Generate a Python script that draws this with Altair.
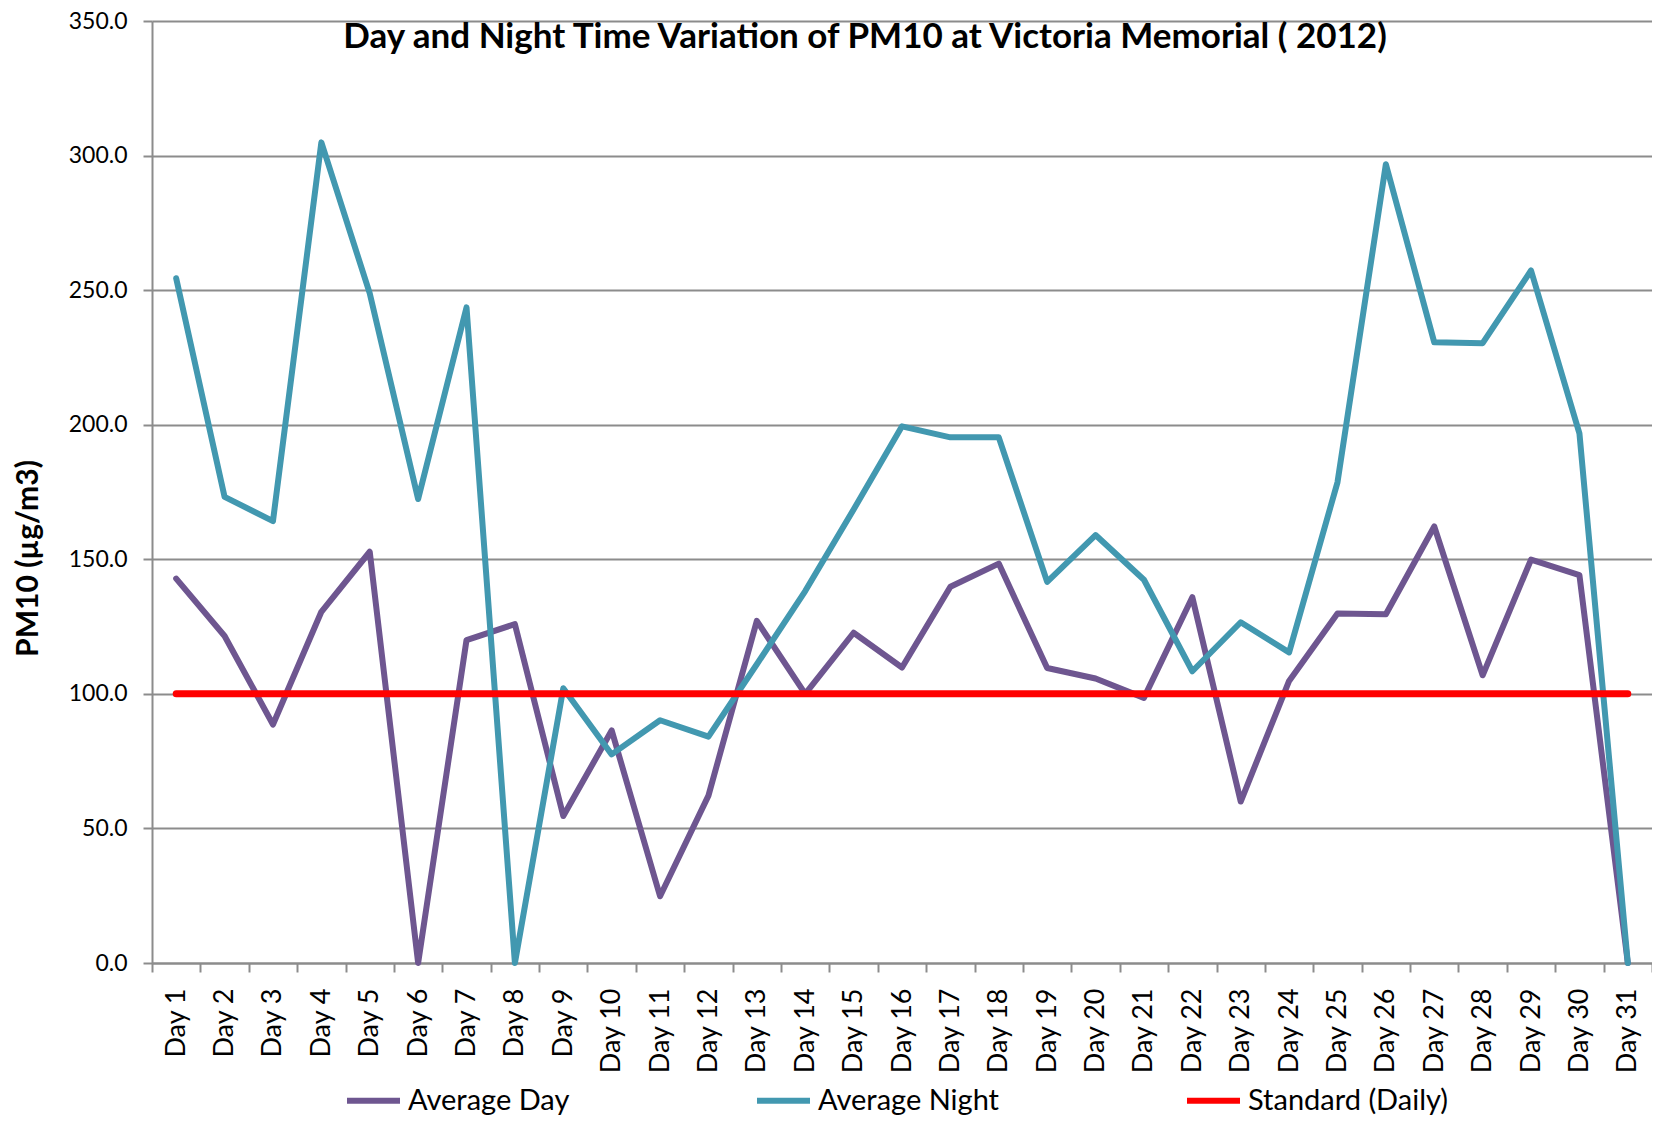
import altair as alt
import pandas as pd

days = [f"Day {i}" for i in range(1, 32)]
avg_day = [142.8, 121.5, 88.6, 130.5, 152.8, 0.0, 120.0, 125.9, 54.6, 86.4,
           24.8, 62.2, 127.1, 100.0, 122.7, 109.8, 139.8, 148.4, 109.6, 105.7,
           98.5, 135.9, 60.0, 104.8, 129.9, 129.6, 162.2, 106.9, 149.9, 144.1, 0.0]
avg_night = [254.4, 173.2, 164.2, 304.9, 248.8, 172.4, 243.6, 0.0, 102.1, 77.5,
             90.2, 84.1, 111.0, 138.2, 168.5, 199.4, 195.3, 195.3, 141.6, 159.0,
             142.4, 108.4, 126.6, 115.4, 178.6, 296.8, 230.6, 230.3, 257.3, 196.8, 0.0]
standard = [100.0] * 31

series_names = ["Average Day", "Average Night", "Standard (Daily)"]
series_colors = ["#6E5690", "#4298B0", "#FF0000"]
y_ticks = [0, 50, 100, 150, 200, 250, 300, 350]

rows = []
for name, vals in zip(series_names, [avg_day, avg_night, standard]):
    for d, v in zip(days, vals):
        rows.append({"day": d, "value": v, "series": name})
df = pd.DataFrame(rows)

FONT = "Lato"
GRID = "#8C8C8C"

x_enc = alt.X(
    "day:N",
    sort=days,
    bandPosition=0.5,
    scale=alt.Scale(type="band", paddingInner=0, paddingOuter=0),
    axis=alt.Axis(
        title=None,
        labelAngle=270,
        labelFont=FONT,
        labelFontSize=27,
        labelColor="#000000",
        labelPadding=16,
        tickBand="extent",
        tickSize=9,
        tickColor=GRID,
        tickWidth=2,
        domainColor=GRID,
        domainWidth=2,
        grid=False,
    ),
)
y_enc = alt.Y(
    "value:Q",
    scale=alt.Scale(domain=[0, 350], nice=False),
    axis=alt.Axis(
        values=y_ticks,
        format=".1f",
        title="PM10 (µg/m3)",
        titleFont=FONT,
        titleFontSize=30,
        titleFontWeight="bold",
        titleColor="#000000",
        titleX=-124,
        titleY=537,
        titleAngle=270,
        titleAlign="center",
        titleBaseline="middle",
        labelFont=FONT,
        labelFontSize=23,
        labelColor="#000000",
        labelPadding=16,
        tickSize=9,
        tickColor=GRID,
        tickWidth=2,
        domainColor=GRID,
        domainWidth=2,
        gridColor=GRID,
        gridWidth=2,
    ),
)
color_enc = alt.Color(
    "series:N",
    scale=alt.Scale(domain=series_names, range=series_colors),
    legend=alt.Legend(
        title=None,
        orient="none",
        legendX=192,
        legendY=1050,
        direction="horizontal",
        columns=3,
        symbolType="stroke",
        symbolSize=2809,
        symbolStrokeWidth=6,
        labelFont=FONT,
        labelFontSize=29,
        labelColor="#000000",
        labelOffset=5,
        columnPadding=175,
        labelLimit=400,
    ),
)

base = alt.Chart(df).encode(x=x_enc, y=y_enc, color=color_enc)

series_lines = base.transform_filter(
    alt.FieldOneOfPredicate(field="series", oneOf=series_names[:2])
).mark_line(strokeWidth=6, strokeCap="round", strokeJoin="round")

standard_line = base.transform_filter(
    alt.FieldEqualPredicate(field="series", equal=series_names[2])
).mark_line(strokeWidth=7, strokeCap="round")

chart = alt.layer(series_lines, standard_line).properties(
    width=1500,
    height=942,
    autosize=alt.AutoSizeParams(type="none"),
    padding={"left": 144, "top": 13, "right": 0, "bottom": 155},
    title=alt.TitleParams(
        text="Day and Night Time Variation of PM10 at Victoria Memorial ( 2012)",
        font=FONT,
        fontSize=35,
        fontWeight="bold",
        color="#000000",
        anchor="middle",
        baseline="alphabetic",
        offset=-30,
        dx=-37,
        dy=43,
    ),
).configure_view(stroke="transparent")

chart.save("out.html", embed_options={"renderer": "svg", "actions": False})
